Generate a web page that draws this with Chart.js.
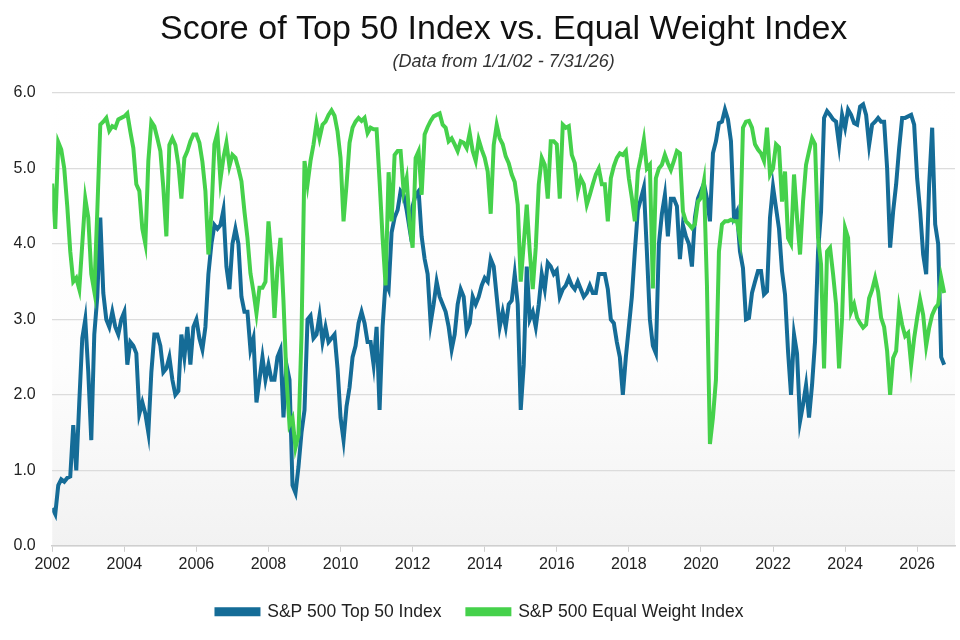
<!DOCTYPE html>
<html>
<head>
<meta charset="utf-8">
<title>Score of Top 50 Index vs. Equal Weight Index</title>
<script src="https://cdn.jsdelivr.net/npm/chart.js@4.4.1/dist/chart.umd.min.js"></script>
<style>
  html, body { margin: 0; padding: 0; background: #fff; }
  #wrap { width: 960px; height: 640px; }
</style>
</head>
<body>
<div id="wrap"><canvas id="scoreChart"></canvas></div>
<script>
// monthly readings, first value = Jan 2002
const startYear = 2002;
const yearTicks = [2002, 2004, 2006, 2008, 2010, 2012, 2014, 2016, 2018, 2020, 2022, 2024, 2026];

const top50 = [
  0.5, 0.42, 0.8, 0.88, 0.85, 0.9, 0.92, 1.6, 1.0, 1.9, 2.75, 3.0,       // 2002
  2.3, 1.4, 2.8, 3.3, 4.35, 3.35, 3.0, 2.9, 3.1, 2.9, 2.8, 3.0,          // 2003
  3.1, 2.4, 2.7, 2.65, 2.55, 1.75, 1.9, 1.75, 1.5, 2.3, 2.8, 2.8,        // 2004
  2.65, 2.3, 2.35, 2.5, 2.2, 2.0, 2.05, 2.8, 2.5, 2.9, 2.4, 2.9,         // 2005
  3.0, 2.75, 2.6, 2.9, 3.6, 4.0, 4.25, 4.2, 4.25, 4.45, 3.7, 3.4,        // 2006
  4.0, 4.2, 4.0, 3.3, 3.1, 3.1, 2.6, 2.75, 1.9, 2.2, 2.5, 2.2,           // 2007
  2.4, 2.2, 2.2, 2.5, 2.6, 1.7, 2.4, 2.2, 0.8, 0.7, 1.05, 1.5,           // 2008
  1.8, 3.0, 3.05, 2.75, 2.8, 3.05, 2.7, 2.9, 2.7, 2.75, 2.8, 2.35,       // 2009
  1.7, 1.4, 1.85, 2.1, 2.5, 2.65, 2.95, 3.1, 2.95, 2.7, 2.7, 2.4,        // 2010
  2.9, 1.8, 2.9, 3.5, 3.4, 4.15, 4.35, 4.45, 4.7, 4.65, 4.45, 4.2,       // 2011
  4.5, 4.65, 4.7, 4.1, 3.8, 3.6, 2.95, 3.2, 3.5, 3.3, 3.2, 3.1,          // 2012
  2.9, 2.6, 2.8, 3.2, 3.4, 3.3, 2.85, 2.95, 3.3, 3.2, 3.3, 3.45,         // 2013
  3.55, 3.5, 3.8, 3.7, 3.3, 2.9, 3.1, 2.9, 3.2, 3.25, 3.6, 3.2,          // 2014
  1.8, 2.4, 3.7, 3.0, 3.1, 2.9, 3.2, 3.6, 3.4, 3.75, 3.7, 3.6,           // 2015
  3.65, 3.3, 3.4, 3.45, 3.55, 3.45, 3.4, 3.5, 3.4, 3.3, 3.35, 3.45,      // 2016
  3.35, 3.35, 3.6, 3.6, 3.6, 3.4, 3.0, 2.95, 2.7, 2.5, 2.0, 2.5,         // 2017
  2.9, 3.3, 3.9, 4.45, 4.6, 4.75, 3.9, 3.0, 2.65, 2.55, 4.0, 4.4,        // 2018
  4.65, 4.1, 4.6, 4.6, 4.5, 3.8, 4.25, 4.1, 4.0, 3.7, 4.35, 4.6,         // 2019
  4.7, 4.8, 4.6, 4.3, 5.2, 5.36, 5.6, 5.62, 5.78, 5.65, 5.36, 4.35,      // 2020
  4.43, 3.9, 3.68, 3.0, 3.02, 3.35, 3.5, 3.64, 3.64, 3.33, 3.37, 4.35,   // 2021
  4.76, 4.48, 4.2, 3.64, 3.33, 2.58, 2.0, 2.8, 2.55, 1.65, 1.87, 2.13,   // 2022
  1.7, 2.13, 2.71, 3.9, 4.43, 5.67, 5.76, 5.71, 5.65, 5.62, 5.31, 5.71,  // 2023
  5.54, 5.78, 5.71, 5.6, 5.58, 5.82, 5.85, 5.71, 5.31, 5.58, 5.62, 5.67, // 2024
  5.62, 5.62, 5.0, 3.95, 4.43, 4.79, 5.27, 5.67, 5.67, 5.69, 5.71, 5.58, // 2025
  4.87, 4.43, 3.86, 3.6, 4.79, 5.54, 4.26, 4.0, 2.5, 2.4                 // 2026
];

const equalWeight = [
  4.8, 4.2, 5.35, 5.25, 5.0, 4.5, 3.9, 3.5, 3.55, 3.4, 4.0, 4.6,         // 2002
  4.35, 3.6, 3.37, 4.43, 5.58, 5.62, 5.67, 5.5, 5.56, 5.54, 5.65, 5.67,  // 2003
  5.69, 5.73, 5.49, 5.27, 4.79, 4.7, 4.2, 4.0, 5.1, 5.62, 5.56, 5.4,     // 2004
  5.23, 4.74, 4.1, 5.31, 5.4, 5.31, 5.05, 4.6, 5.14, 5.23, 5.36, 5.45,   // 2005
  5.45, 5.34, 5.09, 4.7, 3.86, 4.41, 5.32, 5.47, 4.85, 5.14, 5.34, 5.03, // 2006
  5.18, 5.14, 5.0, 4.83, 4.43, 4.08, 3.61, 3.37, 3.08, 3.42, 3.42, 3.5,  // 2007
  4.3, 3.81, 3.02, 3.68, 4.08, 3.24, 2.22, 1.6, 1.69, 1.3, 1.47, 2.8,    // 2008
  5.1, 4.79, 5.1, 5.32, 5.6, 5.4, 5.58, 5.62, 5.71, 5.77, 5.7, 5.49,     // 2009
  5.14, 4.3, 4.79, 5.34, 5.54, 5.62, 5.67, 5.63, 5.67, 5.47, 5.54, 5.52, // 2010
  5.52, 4.83, 4.08, 3.45, 4.95, 4.3, 5.18, 5.23, 5.23, 4.7, 4.87, 4.26,  // 2011
  3.95, 5.14, 5.23, 4.65, 5.45, 5.55, 5.63, 5.69, 5.71, 5.73, 5.58, 5.54,// 2012
  5.36, 5.4, 5.32, 5.23, 5.36, 5.34, 5.27, 5.47, 5.23, 5.1, 5.38, 5.25,  // 2013
  5.14, 4.96, 4.4, 5.31, 5.58, 5.4, 5.32, 5.16, 5.07, 4.92, 4.82, 4.52,  // 2014
  3.5, 4.0, 4.52, 3.9, 3.4, 3.95, 4.79, 5.14, 5.05, 4.6, 5.36, 5.36,     // 2015
  5.32, 4.6, 5.58, 5.54, 5.56, 5.18, 5.07, 4.7, 4.87, 4.79, 4.52, 4.65,  // 2016
  4.79, 4.92, 5.0, 4.79, 4.79, 4.3, 4.87, 5.03, 5.14, 5.2, 5.18, 5.23,   // 2017
  4.87, 4.61, 4.3, 4.96, 5.15, 5.38, 5.0, 5.05, 3.41, 4.87, 5.0, 5.05,   // 2018
  5.18, 5.07, 4.98, 5.1, 5.23, 5.2, 4.43, 4.3, 4.26, 4.21, 4.26, 4.56,   // 2019
  4.61, 4.83, 3.46, 1.35, 1.7, 2.2, 3.9, 4.26, 4.3, 4.3, 4.32, 4.3,      // 2020
  4.3, 4.08, 5.54, 5.62, 5.63, 5.54, 5.32, 5.25, 5.2, 5.1, 5.54, 4.92,   // 2021
  5.0, 5.32, 5.28, 4.56, 4.96, 4.08, 4.0, 4.92, 4.35, 3.86, 4.56, 5.05,  // 2022
  5.23, 5.4, 5.32, 4.08, 3.73, 2.35, 3.9, 3.95, 3.6, 3.2, 2.35, 3.02,    // 2023
  4.21, 4.08, 3.1, 3.2, 3.02, 2.95, 2.89, 2.93, 3.28, 3.39, 3.55, 3.37,  // 2024
  3.02, 2.9, 2.58, 2.0, 2.49, 2.58, 3.15, 2.93, 2.78, 2.82, 2.4, 2.75,   // 2025
  3.02, 3.26, 3.06, 2.65, 2.89, 3.06, 3.15, 3.2, 3.55, 3.35              // 2026
];

const toPoints = arr => arr.map((v, i) => ({ x: startYear + i / 12, y: v }));

// light grey fade at the bottom of the plot area
const plotShade = {
  id: 'plotShade',
  beforeDraw(chart) {
    const { ctx, chartArea: a } = chart;
    const g = ctx.createLinearGradient(0, a.top, 0, a.bottom);
    g.addColorStop(0, '#ffffff');
    g.addColorStop(0.6, '#fdfdfd');
    g.addColorStop(1, '#f2f2f2');
    ctx.save();
    ctx.fillStyle = g;
    ctx.fillRect(a.left, a.top, a.right - a.left, a.bottom - a.top);
    ctx.restore();
  }
};

Chart.defaults.font.family = '"Liberation Sans", Arial, Helvetica, sans-serif';
Chart.defaults.color = '#222';

const ctx = document.getElementById('scoreChart').getContext('2d');
const scoreChart = new Chart(ctx, {
  type: 'line',
  data: {
    datasets: [{
      label: 'S&P 500 Top 50 Index',
      data: toPoints(top50),
      borderColor: '#156c97',
      backgroundColor: '#156c97',
      borderWidth: 4,
      pointRadius: 0,
      order: 1
    }, {
      label: 'S&P 500 Equal Weight Index',
      data: toPoints(equalWeight),
      borderColor: '#45d14b',
      backgroundColor: '#45d14b',
      borderWidth: 4,
      pointRadius: 0,
      order: 0
    }]
  },
  options: {
    responsive: true,
    maintainAspectRatio: false,
    animation: false,
    layout: { padding: { left: 5, right: 5, top: 0, bottom: 9.5 } },
    plugins: {
      title: {
        display: true,
        fullSize: false,
        text: 'Score of Top 50 Index vs. Equal Weight Index',
        color: '#111',
        font: { size: 34, weight: 'normal' },
        padding: { top: 9, bottom: 0 }
      },
      subtitle: {
        display: true,
        fullSize: false,
        text: '(Data from 1/1/02 - 7/31/26)',
        color: '#333',
        font: { size: 18, style: 'italic' },
        padding: { top: 1, bottom: 20.6 }
      },
      legend: {
        position: 'bottom',
        labels: {
          boxWidth: 42,
          boxHeight: 5,
          padding: 26,
          font: { size: 17.5 },
          sort: (a, b) => a.datasetIndex - b.datasetIndex
        }
      },
      tooltip: { enabled: false }
    },
    scales: {
      x: {
        type: 'linear',
        min: 2002,
        max: 2027.05,
        afterBuildTicks: scale => { scale.ticks = yearTicks.map(v => ({ value: v })); },
        ticks: {
          callback: v => String(v),
          font: { size: 16 },
          padding: 3,
          maxRotation: 0,
          autoSkip: false
        },
        grid: { drawOnChartArea: false, tickLength: 6, tickColor: '#cfcfcf' },
        border: { color: '#cfcfcf', width: 1.5 }
      },
      y: {
        min: 0,
        max: 6,
        ticks: {
          stepSize: 1,
          callback: v => v.toFixed(1),
          font: { size: 16 },
          padding: 8.5
        },
        grid: { color: '#dcdcdc', lineWidth: 1.2, tickLength: 8, tickColor: 'rgba(0,0,0,0)' },
        border: { display: false }
      }
    }
  },
  plugins: [plotShade]
});
</script>
</body>
</html>
